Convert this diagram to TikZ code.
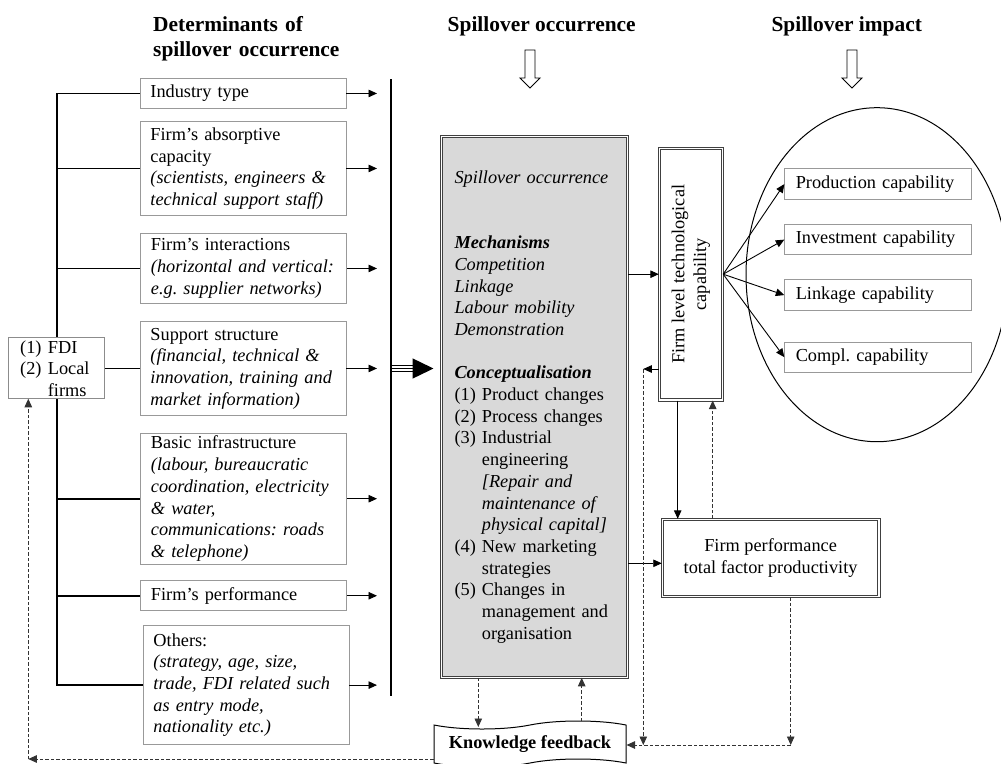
\documentclass[tikz,border=0pt]{standalone}
\usepackage{fontspec}
\usepackage{graphicx}
\setmainfont{Liberation Serif}
\usetikzlibrary{arrows.meta,shapes.geometric,shapes.symbols}

\newcommand{\figtxt}{\fontsize{18.3pt}{21.7pt}\selectfont}
\newcommand{\headfont}{\fontsize{21.4pt}{25pt}\selectfont\bfseries}
\frenchspacing

\begin{document}
\begin{tikzpicture}[x=1pt,y=-1pt,
  every node/.style={font=\figtxt, inner sep=0pt},
  lbox/.style={draw=black!40, line width=0.9pt, fill=white, align=left,
    inner xsep=10.5pt, inner ysep=0pt, text width=185pt, anchor=north west},
  capbox/.style={lbox, inner xsep=11pt, text width=164.4pt},
  dbox/.style={draw=black!75, line width=1pt, double=white, double distance=1.3pt},
  arrowend/.style={-{Triangle[length=8.5pt,width=7.5pt]}},
  conn/.style={arrowend, line width=0.9pt},
  dconn/.style={arrowend, line width=0.9pt, dash pattern=on 3.5pt off 2pt, draw=black!80},
  bus/.style={line width=1.9pt},
  hollowdown/.pic={\draw[line width=0.9pt, fill=white]
    (-5,0) -- (5,0) -- (5,28) -- (10,28) -- (0,38) -- (-10,28) -- (-5,28) -- cycle;}]

\useasboundingbox (0,0) rectangle (1001,763);
\clip (0,0) rectangle (1001,763);

% column headings
\node[font=\headfont, align=left, text width=220pt, anchor=west] (hdet) at (153,38.5)
  {Determinants of\\spillover occurrence};
\node[font=\headfont, anchor=base] (hocc) at (541.7,31) {Spillover occurrence};
\node[font=\headfont, anchor=base] (himp) at (846.7,31) {Spillover impact};
\pic at (530,50) {hollowdown};
\pic at (852,50) {hollowdown};

% determinants
\node[lbox, minimum height=30pt] (b1) at (139.5,78) {Industry type};
\node[lbox, minimum height=94pt] (b2) at (139.5,121)
  {Firm's absorptive\\capacity\\\textit{(scientists, engineers \&}\\\textit{technical support staff)}};
\node[lbox, minimum height=70pt] (b3) at (140,233)
  {Firm's interactions\\\textit{(horizontal and vertical:}\\\textit{e.g. supplier networks)}};
\node[lbox, minimum height=94pt] (b4) at (139.5,321)
  {Support structure\\\textit{(financial, technical \&}\\\textit{innovation, training and}\\\textit{market information)}};
\node[lbox, minimum height=130.5pt] (b5) at (140,433)
  {Basic infrastructure\\\textit{(labour, bureaucratic}\\\textit{coordination, electricity}\\\textit{\& water,}\\\textit{communications: roads}\\\textit{\& telephone)}};
\node[lbox, minimum height=30pt] (b6) at (140,580.3) {Firm's performance};
\node[lbox, minimum height=118.7pt] (b7) at (142.5,625.3)
  {Others:\\\textit{(strategy, age, size,}\\\textit{trade, FDI related such}\\\textit{as entry mode,}\\\textit{nationality etc.)}};

% bracket joining the determinants
\coordinate (busx) at (57.3,0);
\draw[bus] (b1.west) -- (b1.west -| busx) -- (b7.west -| busx) -- (b7.west);
\foreach \b in {b2,b3,b4,b5,b6} \draw[bus] (\b.west -| busx) -- (\b.west);

% arrows onto the collecting bar
\coordinate (tipx) at (377,0);
\foreach \b in {b1,b2,b3,b4,b5,b6,b7} \draw[conn] (\b.east) -- (\b.east -| tipx);
\coordinate (barTop) at (391,79);
\coordinate (barBot) at (391,696);
\draw[line width=2.2pt] (barTop) -- (barBot);

% FDI / local firms
\node[draw=black!45, line width=0.9pt, fill=white, minimum width=96pt, minimum height=60.6pt] (fdi) at (56.3,368) {};
\node[align=left, text width=80pt, anchor=west] (fditext) at (20,368.7)
  {\makebox[27.7pt][l]{(1)}FDI\\\makebox[27.7pt][l]{(2)}Local\\\hspace*{27.7pt}firms};

% spillover occurrence box
\node[dbox, fill=black!15, text width=160pt, inner xsep=12.8pt, minimum height=540.6pt, align=left] (occ) at (534.5,407)
  {\textit{Spillover occurrence}\\[43.4pt]
   \textbf{\textit{Mechanisms}}\\
   \textit{Competition}\\
   \textit{Linkage}\\
   \textit{Labour mobility}\\
   \textit{Demonstration}\\[21.7pt]
   \textbf{\textit{Conceptualisation}}\\
   \makebox[27.4pt][l]{(1)}Product changes\\
   \makebox[27.4pt][l]{(2)}Process changes\\
   \makebox[27.4pt][l]{(3)}Industrial\\
   \hspace*{27.4pt}engineering\\
   \hspace*{27.4pt}\textit{[Repair and}\\
   \hspace*{27.4pt}\textit{maintenance of}\\
   \hspace*{27.4pt}\textit{physical capital]}\\
   \makebox[27.4pt][l]{(4)}New marketing\\
   \hspace*{27.4pt}strategies\\
   \makebox[27.4pt][l]{(5)}Changes in\\
   \hspace*{27.4pt}management and\\
   \hspace*{27.4pt}organisation};

% triple-line arrow into the occurrence box
\coordinate (ta) at (392.2,368.5);
\draw[line width=7pt, shorten >=28.7pt] (ta) -- (occ.west |- ta);
\draw[line width=4.4pt, white, shorten >=28.7pt] (ta) -- (occ.west |- ta);
\draw[line width=1.4pt, shorten >=7.7pt, -{Triangle[length=21pt,width=20pt]}] (ta) -- (occ.west |- ta);

% technological capability and performance
\node[dbox, fill=white, minimum width=63.4pt, minimum height=251.7pt] (ftc) at (691,274.2)
  {\rotatebox{90}{\begin{tabular}{@{}c@{}}Firm level technological\\capability\end{tabular}}};
\node[dbox, fill=white, minimum width=216.7pt, minimum height=77.4pt, align=center] (perf) at (770.6,558)
  {Firm performance\\total factor productivity};

% spillover impact
\node[draw, ellipse, line width=1pt, minimum width=262pt, minimum height=334pt] (impact) at (877,274.7) {};
\node[capbox, minimum height=30.7pt] (c1) at (784.3,168.3) {Production capability};
\node[capbox, minimum height=29.7pt] (c2) at (784.3,224.3) {Investment capability};
\node[capbox, minimum height=30.7pt] (c3) at (784.3,279.3) {Linkage capability};
\node[capbox, minimum height=30pt] (c4) at (784.3,341.7) {Compl. capability};
\foreach \c in {c1,c2,c3,c4} \draw[conn] (ftc.east) -- (\c.west);

% knowledge feedback
\node[draw, line width=1pt, fill=white, tape, tape bend top=in and out, tape bend bottom=in and out,
  tape bend height=8pt, minimum width=192pt, minimum height=46pt, font=\figtxt\bfseries] (kf) at (530,744)
  {Knowledge feedback};

% connectors between occurrence, capability and performance
\coordinate (mk) at (0,563.3);
\draw[conn] (occ.east |- ftc.west) -- (ftc.west);
\draw[conn] (occ.east |- mk) -- (perf.west |- mk);
\coordinate (vx1) at (677.7,0);
\coordinate (vx2) at (712.7,0);
\draw[conn] (ftc.south -| vx1) -- (perf.north -| vx1);
\draw[dconn] (perf.north -| vx2) -- (ftc.south -| vx2);

% feedback loops
\coordinate (corner) at (790.7,745);
\coordinate (fbk) at (643.3,369);
\draw[dconn] (perf.south -| corner) -- (corner);
\draw[dconn] (corner) -- (kf.east |- corner);
\draw[conn] (ftc.west |- fbk) -- (fbk);
\draw[dconn] (fbk) -- (fbk |- corner);
\coordinate (kfa) at (478.3,727);
\coordinate (kfb) at (581.7,721);
\draw[dconn] (occ.south -| kfa) -- (kfa);
\draw[dconn] (kfb) -- (occ.south -| kfb);
\coordinate (lc) at (28.3,759);
\draw[dconn] (kf.west |- lc) -- (lc);
\draw[dconn] (lc) -- (fdi.south -| lc);

\end{tikzpicture}
\end{document}
